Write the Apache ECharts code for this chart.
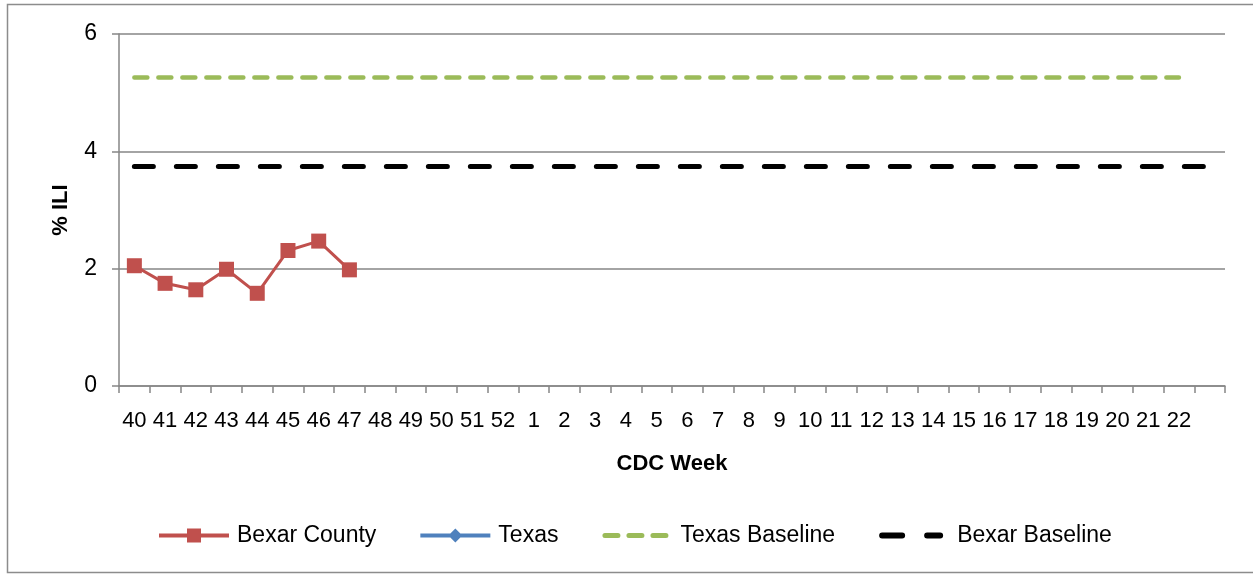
<!DOCTYPE html>
<html>
<head>
<meta charset="utf-8">
<script src="https://cdn.jsdelivr.net/npm/echarts@6/dist/echarts.min.js"></script>
<style>html,body{margin:0;padding:0;background:#fff;}#c{width:1253px;height:575px;}</style>
</head>
<body>
<div id="c"></div>
<script>
var weeks = ['40','41','42','43','44','45','46','47','48','49','50','51','52','1','2','3','4','5','6','7','8','9','10','11','12','13','14','15','16','17','18','19','20','21','22',''];
var bexarCounty = [2.05, 1.75, 1.64, 1.99, 1.58, 2.31, 2.47, 1.98];
var texas = [];
var texasBaseline = [5.26,5.26,5.26,5.26,5.26,5.26,5.26,5.26,5.26,5.26,5.26,5.26,5.26,5.26,5.26,5.26,5.26,5.26,5.26,5.26,5.26,5.26,5.26,5.26,5.26,5.26,5.26,5.26,5.26,5.26,5.26,5.26,5.26,5.26,5.26];
var bexarBaseline = [3.74,3.74,3.74,3.74,3.74,3.74,3.74,3.74,3.74,3.74,3.74,3.74,3.74,3.74,3.74,3.74,3.74,3.74,3.74,3.74,3.74,3.74,3.74,3.74,3.74,3.74,3.74,3.74,3.74,3.74,3.74,3.74,3.74,3.74,3.74,3.74];
var yTicks = [0, 2, 4, 6];

function dash(a, b, y0, h) {
  var r = h / 2;
  return 'M' + (a + r) + ',' + y0 + 'H' + (b - r) + 'A' + r + ',' + r + ',0,0,1,' + (b - r) + ',' + (y0 + h) +
         'H' + (a + r) + 'A' + r + ',' + r + ',0,0,1,' + (a + r) + ',' + y0 + 'Z';
}
var iconBexar = 'path://M0,5H70V9H0Z M28,0H42V14H28Z';
var iconTexas = 'path://M0,5H70V9H0Z M35,0L42,7L35,14L28,7Z';
var iconTexasBase = 'path://M0,0L0,0Z M70,14L70,14Z ' + dash(0, 18, 4.5, 5) + dash(24, 42, 4.5, 5) + dash(48, 66, 4.5, 5);
var iconBexarBase = 'path://M0,0L0,0Z M70,14L70,14Z ' + dash(0, 26, 4, 6) + dash(45, 64, 4, 6);

var FONT = 'Liberation Sans';
var chart = echarts.init(document.getElementById('c'), null, {renderer: 'canvas'});
chart.setOption({
  animation: false,
  backgroundColor: '#fff',
  graphic: [{
    type: 'rect', shape: {x: 7.5, y: 4.5, width: 1260, height: 568},
    style: {fill: 'none', stroke: '#8c8c8c', lineWidth: 1.5}, silent: true, z: -1
  }],
  grid: {left: 119, right: 28, top: 34, bottom: 189, containLabel: false},
  legend: {
    left: 159, top: 524, padding: 0, itemWidth: 70, itemHeight: 14, itemGap: 44,
    symbolKeepAspect: false,
    itemStyle: {borderWidth: 0},
    textStyle: {fontFamily: FONT, fontSize: 23, color: '#000', padding: [0, 0, 0, 3]},
    data: [
      {name: 'Bexar County', icon: iconBexar},
      {name: 'Texas', icon: iconTexas},
      {name: 'Texas Baseline', icon: iconTexasBase},
      {name: 'Bexar Baseline', icon: iconBexarBase}
    ]
  },
  xAxis: {
    type: 'category', data: weeks, boundaryGap: true,
    name: 'CDC Week', nameLocation: 'middle', nameGap: 67,
    nameTextStyle: {fontFamily: FONT, fontSize: 22, fontWeight: 'bold', color: '#000'},
    axisLine: {lineStyle: {color: '#868686', width: 1.5}},
    axisTick: {show: true, interval: 0, length: 7, lineStyle: {color: '#868686', width: 1.5}},
    axisLabel: {interval: 0, margin: 24, fontFamily: FONT, fontSize: 22, color: '#000'},
    splitLine: {show: false}
  },
  yAxis: {
    type: 'value', min: yTicks[0], max: yTicks[yTicks.length - 1], interval: 2,
    name: '% ILI', nameLocation: 'middle', nameGap: 47, nameRotate: 90,
    nameTextStyle: {fontFamily: FONT, fontSize: 22, fontWeight: 'bold', color: '#000'},
    axisLine: {show: true, lineStyle: {color: '#868686', width: 1.5}},
    axisTick: {show: true, length: 7, lineStyle: {color: '#868686', width: 1.5}},
    axisLabel: {margin: 22, fontFamily: FONT, fontSize: 23, color: '#000'},
    splitLine: {show: true, lineStyle: {color: '#868686', width: 1.5}}
  },
  series: [
    {
      name: 'Bexar County', type: 'line', data: bexarCounty,
      symbol: 'rect', symbolSize: 15,
      itemStyle: {color: '#C0504D', borderWidth: 0}, lineStyle: {color: '#C0504D', width: 3}, z: 5
    },
    {
      name: 'Texas', type: 'line', data: texas,
      symbol: 'diamond', symbolSize: 14,
      itemStyle: {color: '#4F81BD', borderWidth: 0}, lineStyle: {color: '#4F81BD', width: 3}
    },
    {
      name: 'Texas Baseline', type: 'line', data: texasBaseline, symbol: 'none',
      itemStyle: {color: '#9BBB59', borderWidth: 0},
      lineStyle: {color: '#9BBB59', width: 4.5, type: [13, 11], cap: 'round'}
    },
    {
      name: 'Bexar Baseline', type: 'line', data: bexarBaseline, symbol: 'none',
      itemStyle: {color: '#000', borderWidth: 0},
      lineStyle: {color: '#000', width: 5, type: [19, 23], cap: 'round'}
    }
  ]
});
</script>
</body>
</html>
